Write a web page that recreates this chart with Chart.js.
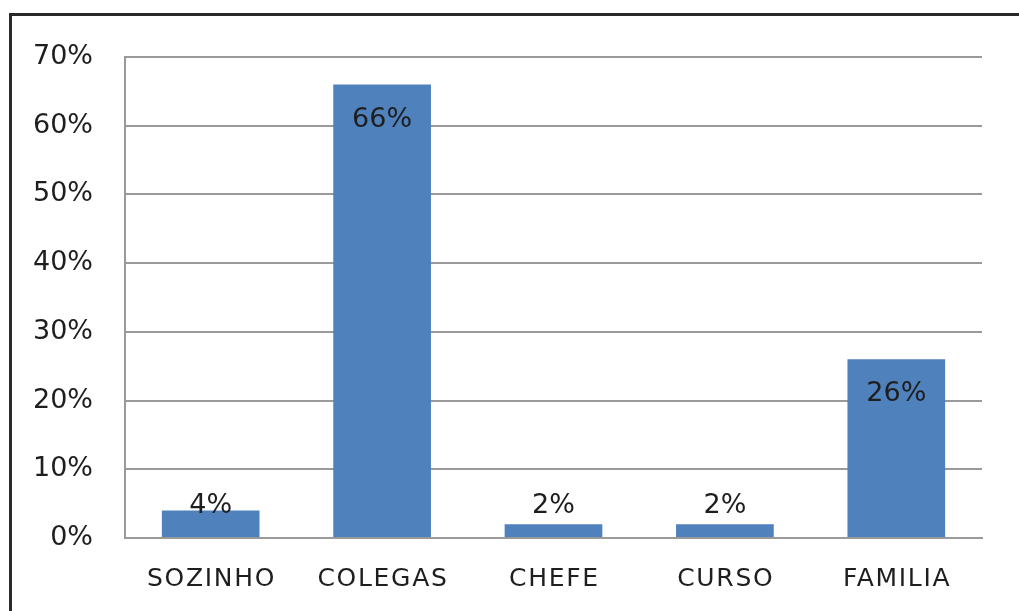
<!DOCTYPE html>
<html>
<head>
<meta charset="utf-8">
<script src="https://cdn.jsdelivr.net/npm/chart.js@4/dist/chart.umd.min.js"></script>
<style>
html,body{margin:0;padding:0;background:#fff;overflow:hidden;}
#wrap{position:absolute;left:0;top:0;width:1019px;height:611px;}
#frame{position:absolute;left:9px;top:13px;width:1100px;height:700px;border-left:3px solid #2a2a2a;border-top:3px solid #2a2a2a;box-sizing:border-box;pointer-events:none;}
canvas{position:absolute;left:0;top:0;}
</style>
</head>
<body>
<div id="wrap">
<canvas id="c" width="1019" height="611"></canvas>
<div id="frame"></div>
</div>
<script>
const categories = ["SOZINHO", "COLEGAS", "CHEFE", "CURSO", "FAMILIA"];
const values = [4, 66, 2, 2, 26];
const yTicks = [0, 10, 20, 30, 40, 50, 60, 70];

const FONT = "'DejaVu Sans', sans-serif";

const labelPlugin = {
  id: 'barLabels',
  afterDatasetsDraw(chart) {
    const ctx = chart.ctx;
    const meta = chart.getDatasetMeta(0);
    const bottom = chart.chartArea.bottom;
    ctx.save();
    ctx.font = "27px " + FONT;
    ctx.fillStyle = "#1e1e1e";
    ctx.textAlign = "center";
    ctx.textBaseline = "middle";
    meta.data.forEach((bar, i) => {
      const y = Math.min(bar.y + 35, bottom - 32);
      ctx.fillText(values[i] + "%", bar.x, y);
    });
    ctx.restore();
  }
};

const chart = new Chart(document.getElementById('c'), {
  type: 'bar',
  data: {
    labels: categories,
    datasets: [{
      data: values,
      backgroundColor: '#4F81BD',
      borderWidth: 0,
      categoryPercentage: 1,
      barPercentage: 0.57
    }]
  },
  options: {
    responsive: false,
    animation: false,
    devicePixelRatio: 1,
    layout: { padding: { left: 0, right: 37, top: 57, bottom: 0 } },
    plugins: { legend: { display: false }, tooltip: { enabled: false } },
    scales: {
      x: {
        grid: { display: false, drawTicks: false },
        border: { display: true, color: '#9a9a9a', width: 2 },
        ticks: { color: '#1e1e1e', font: { family: FONT, size: 25 }, padding: 26, maxRotation: 0 },
        afterFit(scale) { scale.height = 73; }
      },
      y: {
        min: 0, max: 70,
        afterBuildTicks(scale) { scale.ticks = yTicks.map(v => ({ value: v })); },
        grid: { color: '#9a9a9a', lineWidth: 2, drawTicks: false },
        border: { display: true, color: '#9a9a9a', width: 2 },
        ticks: { color: '#1e1e1e', font: { family: FONT, size: 27 }, padding: 32, callback: v => v + '%' },
        afterFit(scale) { scale.width = 125; }
      }
    }
  },
  plugins: [labelPlugin]
});

// slightly wider letter spacing for category labels, as in the reference
const xs = chart.scales.x;
const origDrawLabels = xs.drawLabels.bind(xs);
xs.drawLabels = function (area) {
  const c = this.ctx;
  c.save();
  c.letterSpacing = '1.7px';
  c.translate(0.85, 0);
  origDrawLabels(area);
  c.restore();
};
chart.draw();
</script>
</body>
</html>
